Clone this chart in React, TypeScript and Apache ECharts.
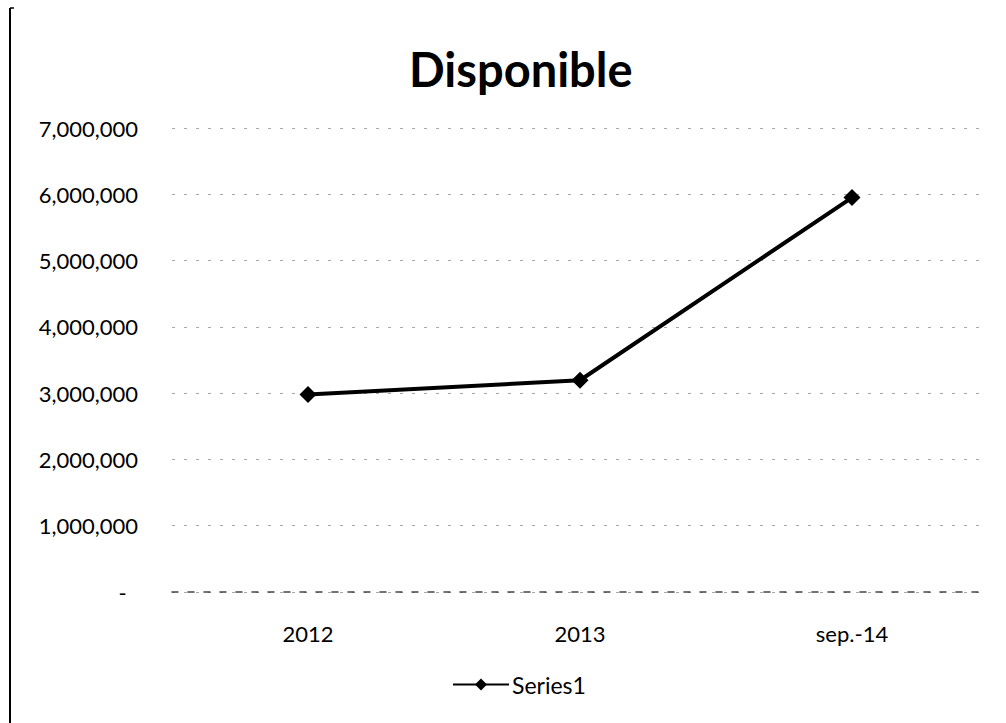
import React, { useEffect, useRef } from "react";
import * as echarts from "echarts";

const categories = ["2012", "2013", "sep.-14"];
const series1 = [2980000, 3195000, 5950000];
const yTicks = { min: 0, max: 7000000, interval: 1000000 };

const FONT = "Lato, 'Open Sans', sans-serif";

export default function App() {
  const ref = useRef<HTMLDivElement>(null);

  useEffect(() => {
    if (!ref.current) return;
    const chart = echarts.init(ref.current, null, { renderer: "svg" });
    chart.setOption({
      animation: false,
      backgroundColor: "#fff",
      textStyle: { fontFamily: FONT, color: "#000" },
      title: {
        text: "Disponible",
        left: 404,
        top: 40,
        textStyle: { fontFamily: FONT, fontSize: 47, fontWeight: "bold", color: "#000" },
      },
      grid: { left: 172, right: 18, top: 128, bottom: 131 },
      legend: {
        data: ["Series1"],
        left: 447,
        top: 668,
        itemWidth: 56,
        itemHeight: 15,
        itemGap: 4,
        textStyle: { fontFamily: FONT, fontSize: 23, color: "#000", padding: [0, 0, 0, -2] },
      },
      xAxis: {
        type: "category",
        data: categories,
        boundaryGap: true,
        axisTick: { show: false },
        axisLine: { show: true, lineStyle: { color: "#444", type: [6, 10], width: 1.5 } },
        axisLabel: { fontFamily: FONT, fontSize: 22, color: "#000", margin: 30 },
      },
      yAxis: {
        type: "value",
        min: yTicks.min,
        max: yTicks.max,
        interval: yTicks.interval,
        axisLine: { show: false },
        axisTick: { show: false },
        splitLine: { show: true, lineStyle: { color: "#a8a8a8", type: [3, 9], width: 1 } },
        axisLabel: {
          fontFamily: FONT,
          fontSize: 22,
          color: "#000",
          margin: 34,
          formatter: (v: number) => (v === 0 ? "-  " : v.toLocaleString("en-US")),
        },
      },
      series: [
        {
          name: "Series1",
          type: "line",
          data: series1,
          symbol: "diamond",
          symbolSize: 17,
          lineStyle: { color: "#000", width: 4 },
          itemStyle: { color: "#000" },
        },
      ],
      graphic: [
        {
          type: "line",
          shape: { x1: 10, y1: 8, x2: 10, y2: 723 },
          style: { stroke: "#000", lineWidth: 2 },
        },
        {
          type: "line",
          shape: { x1: 10, y1: 8, x2: 14, y2: 8 },
          style: { stroke: "#000", lineWidth: 1.5 },
        },
      ],
    });
    return () => chart.dispose();
  }, []);

  return (
    <div
      ref={ref}
      style={{ position: "absolute", left: 0, top: 0, width: 1006, height: 723 }}
    />
  );
}
